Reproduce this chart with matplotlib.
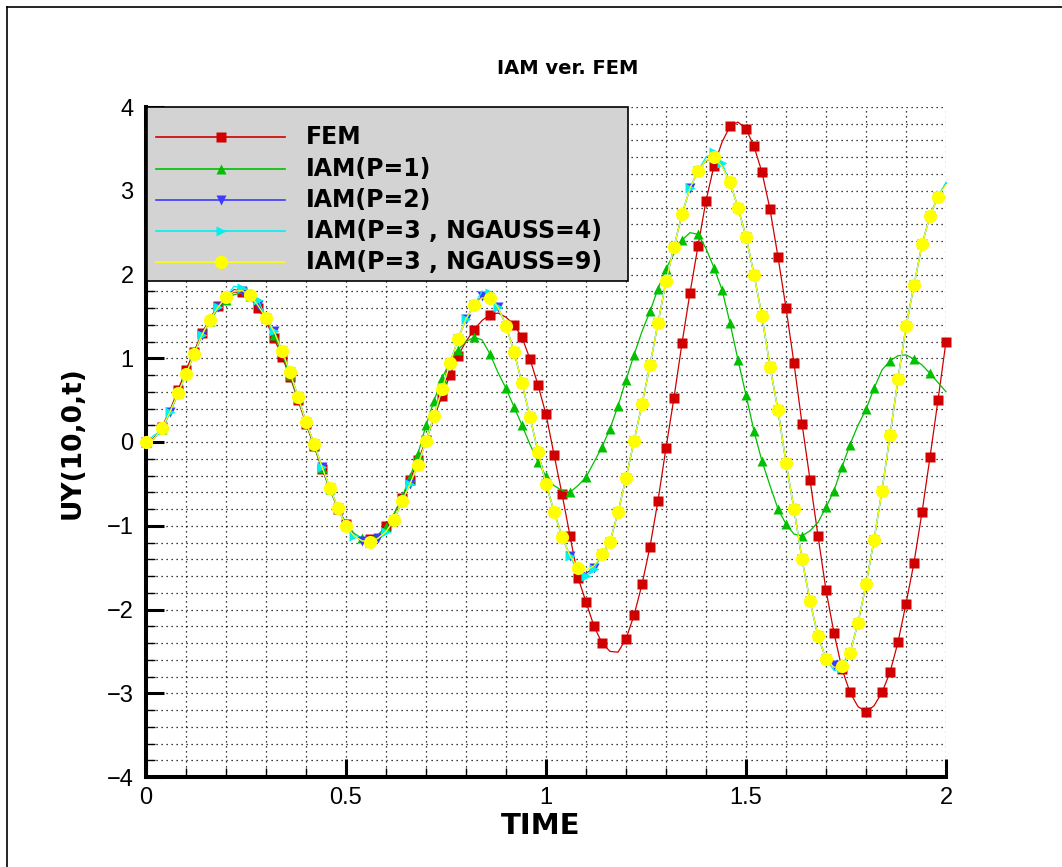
import numpy as np
import matplotlib.pyplot as plt
from matplotlib.ticker import MultipleLocator
from matplotlib.patches import Rectangle
from matplotlib.lines import Line2D

# sampling times of the response history
time = np.round(np.arange(0, 2.001, 0.02), 2)

uy_fem = [
    0.00, 0.05, 0.18, 0.38, 0.62, 0.86, 1.08, 1.30, 1.48, 1.62,
    1.73, 1.79, 1.79, 1.72, 1.60, 1.44, 1.24, 1.02, 0.78, 0.50,
    0.22, -0.05, -0.32, -0.57, -0.80, -0.98, -1.10, -1.16, -1.16, -1.12,
    -1.00, -0.86, -0.67, -0.45, -0.22, 0.02, 0.29, 0.55, 0.80, 1.03,
    1.20, 1.34, 1.45, 1.52, 1.54, 1.49, 1.40, 1.25, 0.99, 0.68,
    0.33, -0.15, -0.62, -1.12, -1.62, -1.91, -2.20, -2.40, -2.50, -2.51,
    -2.35, -2.07, -1.70, -1.25, -0.70, -0.07, 0.53, 1.18, 1.78, 2.34,
    2.88, 3.30, 3.58, 3.77, 3.82, 3.74, 3.53, 3.22, 2.78, 2.21,
    1.60, 0.94, 0.22, -0.45, -1.12, -1.77, -2.28, -2.71, -2.99, -3.16,
    -3.22, -3.15, -2.99, -2.75, -2.39, -1.93, -1.44, -0.84, -0.18, 0.50,
    1.20,
]

uy_p1 = [
    0.00, 0.04, 0.16, 0.35, 0.58, 0.82, 1.05, 1.27, 1.45, 1.59,
    1.70, 1.76, 1.78, 1.74, 1.63, 1.48, 1.28, 1.05, 0.80, 0.52,
    0.24, -0.04, -0.31, -0.56, -0.79, -0.97, -1.09, -1.15, -1.16, -1.11,
    -1.01, -0.86, -0.66, -0.42, -0.14, 0.20, 0.49, 0.76, 0.96, 1.10,
    1.20, 1.25, 1.22, 1.05, 0.83, 0.64, 0.42, 0.20, -0.03, -0.24,
    -0.41, -0.52, -0.58, -0.60, -0.52, -0.42, -0.24, -0.06, 0.16, 0.43,
    0.74, 1.04, 1.32, 1.56, 1.83, 2.07, 2.25, 2.41, 2.50, 2.48,
    2.31, 2.08, 1.82, 1.42, 0.98, 0.56, 0.13, -0.23, -0.52, -0.80,
    -0.98, -1.10, -1.12, -1.06, -0.96, -0.78, -0.58, -0.30, -0.03, 0.20,
    0.39, 0.64, 0.86, 0.97, 1.03, 1.04, 0.99, 0.92, 0.82, 0.71,
    0.60,
]

uy_p2 = [
    0.00, 0.04, 0.17, 0.36, 0.58, 0.81, 1.05, 1.28, 1.46, 1.61,
    1.73, 1.82, 1.80, 1.75, 1.63, 1.48, 1.32, 1.09, 0.83, 0.54,
    0.24, -0.02, -0.30, -0.55, -0.79, -1.00, -1.12, -1.18, -1.19, -1.15,
    -1.07, -0.93, -0.71, -0.50, -0.27, 0.01, 0.31, 0.63, 0.94, 1.23,
    1.47, 1.63, 1.74, 1.73, 1.61, 1.39, 1.08, 0.70, 0.30, -0.12,
    -0.50, -0.83, -1.13, -1.36, -1.53, -1.57, -1.50, -1.34, -1.19, -0.84,
    -0.43, 0.01, 0.45, 0.92, 1.42, 1.92, 2.33, 2.72, 3.03, 3.24,
    3.36, 3.38, 3.30, 3.10, 2.80, 2.45, 2.00, 1.50, 0.90, 0.38,
    -0.25, -0.80, -1.40, -1.90, -2.32, -2.59, -2.66, -2.66, -2.52, -2.16,
    -1.70, -1.17, -0.58, 0.08, 0.75, 1.38, 1.87, 2.36, 2.70, 2.93,
    3.09,
]

uy_p3_g4 = [
    0.00, 0.08, 0.14, 0.36, 0.58, 0.81, 1.05, 1.28, 1.46, 1.61,
    1.73, 1.86, 1.84, 1.80, 1.70, 1.48, 1.32, 1.09, 0.83, 0.54,
    0.24, -0.02, -0.30, -0.55, -0.79, -1.00, -1.12, -1.18, -1.21, -1.15,
    -1.07, -0.93, -0.71, -0.50, -0.27, 0.01, 0.31, 0.63, 0.94, 1.23,
    1.47, 1.63, 1.80, 1.78, 1.61, 1.39, 1.08, 0.70, 0.30, -0.12,
    -0.50, -0.83, -1.13, -1.36, -1.55, -1.60, -1.52, -1.34, -1.19, -0.84,
    -0.43, 0.01, 0.45, 0.92, 1.42, 1.92, 2.33, 2.72, 3.03, 3.24,
    3.40, 3.46, 3.33, 3.10, 2.80, 2.45, 2.00, 1.50, 0.90, 0.38,
    -0.25, -0.80, -1.40, -1.90, -2.32, -2.59, -2.73, -2.70, -2.52, -2.16,
    -1.70, -1.17, -0.58, 0.08, 0.75, 1.38, 1.87, 2.36, 2.70, 2.93,
    3.10,
]

uy_p3_g9 = [
    0.00, 0.04, 0.17, 0.36, 0.58, 0.81, 1.05, 1.28, 1.46, 1.61,
    1.73, 1.80, 1.81, 1.75, 1.63, 1.48, 1.32, 1.09, 0.83, 0.54,
    0.24, -0.02, -0.30, -0.55, -0.79, -1.00, -1.12, -1.18, -1.19, -1.15,
    -1.07, -0.93, -0.71, -0.50, -0.27, 0.01, 0.31, 0.63, 0.94, 1.23,
    1.47, 1.63, 1.72, 1.72, 1.61, 1.39, 1.08, 0.70, 0.30, -0.12,
    -0.50, -0.83, -1.13, -1.36, -1.50, -1.53, -1.48, -1.34, -1.19, -0.84,
    -0.43, 0.01, 0.45, 0.92, 1.42, 1.92, 2.33, 2.72, 3.03, 3.24,
    3.36, 3.40, 3.29, 3.10, 2.80, 2.45, 2.00, 1.50, 0.90, 0.38,
    -0.25, -0.80, -1.40, -1.90, -2.32, -2.59, -2.69, -2.68, -2.52, -2.16,
    -1.70, -1.17, -0.58, 0.08, 0.75, 1.38, 1.87, 2.36, 2.70, 2.93,
    3.07,
]

labels = ["FEM", "IAM(P=1)", "IAM(P=2)", "IAM(P=3 , NGAUSS=4)", "IAM(P=3 , NGAUSS=9)"]
series = [uy_fem, uy_p1, uy_p2, uy_p3_g4, uy_p3_g9]
colors = ["#d00000", "#00c000", "#3c3cff", "#00f0f0", "#ffff00"]
markers = ["s", "^", "v", ">", "o"]
msizes = [7.0, 7.5, 7.0, 7.5, 9.5]
spacing = [0.025, 0.026, 0.018, 0.018, 0.027]

fig = plt.figure(figsize=(10.62, 8.67), dpi=100)
ax = fig.add_axes([146 / 1062, 90 / 867, 800 / 1062, 670 / 867])

for y, lab, c, m, ms, ev in zip(series, labels, colors, markers, msizes, spacing):
    ax.plot(time, y, color=c, lw=0.9, marker=m, ms=ms, mec="none", mfc=c,
            markevery=ev, label=lab, clip_on=False, zorder=3)

ax.set_xlim(0, 2)
ax.set_ylim(-4, 4)
ax.xaxis.set_major_locator(MultipleLocator(0.5))
ax.xaxis.set_minor_locator(MultipleLocator(0.1))
ax.yaxis.set_major_locator(MultipleLocator(1))
ax.yaxis.set_minor_locator(MultipleLocator(0.2))
ax.set_xticks([0, 0.5, 1, 1.5, 2])
ax.set_xticklabels(["0", "0.5", "1", "1.5", "2"])

ax.grid(which="both", color="black", linestyle=(0, (1, 3)), linewidth=0.9)
ax.set_axisbelow(True)
for side in ("top", "right"):
    ax.spines[side].set_visible(False)
for side in ("left", "bottom"):
    ax.spines[side].set_linewidth(2.9)

ax.tick_params(which="major", direction="in", length=13, width=2.2)
ax.tick_params(which="minor", direction="in", length=6.5, width=1.0)
ax.tick_params(axis="x", which="major", pad=7)
ax.tick_params(axis="y", which="major", pad=9)
for lbl in ax.get_xticklabels() + ax.get_yticklabels():
    lbl.set_fontfamily("Liberation Sans")
    lbl.set_fontsize(17)

# legend box drawn in axes units
ax.add_patch(Rectangle((0.001, 0.7403), 0.601, 0.2597, transform=ax.transAxes,
                       facecolor="#d3d3d3", edgecolor="black", lw=1.2,
                       zorder=5, clip_on=False))
rows = [0.955, 0.908, 0.861, 0.815, 0.769]
for yr, lab, c, m, ms in zip(rows, labels, colors, markers, msizes):
    ax.plot([0.0125, 0.174], [yr, yr], color=c, lw=1.2, transform=ax.transAxes,
            zorder=6, clip_on=False)
    ax.plot([0.0935], [yr], marker=m, ms=ms, mfc=c, mec="none",
            transform=ax.transAxes, zorder=7, clip_on=False)
    ax.text(0.2, yr, lab, transform=ax.transAxes, fontsize=17,
            fontweight="bold", va="center", ha="left", zorder=7)

fig.text(568 / 1062, 1 - 69 / 867, "IAM ver. FEM", fontsize=14,
         fontweight="bold", ha="center", va="center")
fig.text(73 / 1062, 1 - 443 / 867, "UY(10,0,t)", fontsize=19,
         fontweight="bold", rotation=90, ha="center", va="center")
fig.text(541 / 1062, 1 - 834 / 867, "TIME", fontsize=21,
         fontweight="bold", ha="center", va="baseline")

# frame edges along the left and top of the page
fig.add_artist(Line2D([7 / 1062, 7 / 1062], [0, 1 - 7 / 867], color="black", lw=1.2))
fig.add_artist(Line2D([7 / 1062, 1], [1 - 7 / 867, 1 - 7 / 867], color="black", lw=1.2))

fig.savefig("out.png", dpi=100)
